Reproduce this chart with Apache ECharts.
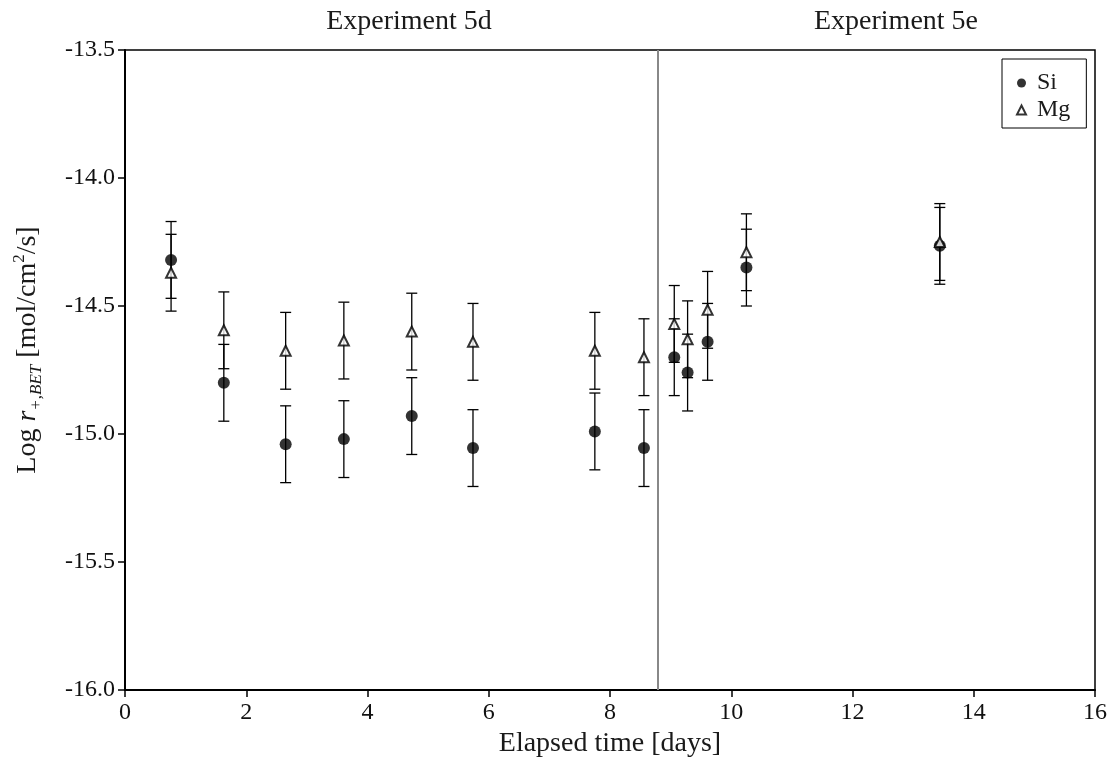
<!DOCTYPE html>
<html>
<head>
<meta charset="utf-8">
<script src="https://cdn.jsdelivr.net/npm/echarts@6/dist/echarts.min.js"></script>
<style>
html,body{margin:0;padding:0;background:#fff;}
#chart{width:1117px;height:763px;}
</style>
</head>
<body>
<div id="chart"></div>
<script>
// ---- data ----
const days   = [0.76, 1.63, 2.65, 3.61, 4.73, 5.74, 7.75, 8.56, 9.06, 9.28, 9.61, 10.25, 13.44];
const siVals = [-14.32, -14.80, -15.04, -15.02, -14.93, -15.055, -14.99, -15.055, -14.70, -14.76, -14.64, -14.35, -14.265];
const mgVals = [-14.37, -14.595, -14.675, -14.635, -14.60, -14.64, -14.675, -14.70, -14.57, -14.63, -14.515, -14.29, -14.25];
const siErr  = [0.15, 0.15, 0.15, 0.15, 0.15, 0.15, 0.15, 0.15, 0.15, 0.15, 0.15, 0.15, 0.15];
const mgErr  = [0.15, 0.15, 0.15, 0.15, 0.15, 0.15, 0.15, 0.15, 0.15, 0.15, 0.15, 0.15, 0.15];
const experimentBoundary = 8.79;
const experimentLabels = ['Experiment 5d', 'Experiment 5e'];
const seriesNames = ['Si', 'Mg'];

const FONT = 'Liberation Serif';

function pts(vals){ return days.map((d,i)=>[d, vals[i]]); }
function errs(vals, e){ return days.map((d,i)=>[d, vals[i]-e[i], vals[i]+e[i]]); }

function renderErr(params, api){
  const x = api.value(0), lo = api.value(1), hi = api.value(2);
  const p1 = api.coord([x, hi]), p2 = api.coord([x, lo]);
  const w = 5.5;
  const style = {stroke:'#000', lineWidth:1.3, fill:null};
  return {type:'group', children:[
    {type:'line', shape:{x1:p1[0],y1:p1[1],x2:p2[0],y2:p2[1]}, style:style},
    {type:'line', shape:{x1:p1[0]-w,y1:p1[1],x2:p1[0]+w,y2:p1[1]}, style:style},
    {type:'line', shape:{x1:p2[0]-w,y1:p2[1],x2:p2[0]+w,y2:p2[1]}, style:style}
  ]};
}

const chart = echarts.init(document.getElementById('chart'), null, {renderer:'canvas'});
chart.setOption({
  animation:false,
  backgroundColor:'#fff',
  textStyle:{fontFamily:FONT},
  grid:{left:125, right:22, top:50, bottom:73, show:true, borderColor:'#000', borderWidth:1.5, backgroundColor:'transparent'},
  graphic:[
    {type:'text', x:409, y:22, style:{text:experimentLabels[0], font:'28px "Liberation Serif"', fill:'#1a1a1a', textAlign:'center', textVerticalAlign:'middle'}},
    {type:'text', x:896, y:22, style:{text:experimentLabels[1], font:'28px "Liberation Serif"', fill:'#1a1a1a', textAlign:'center', textVerticalAlign:'middle'}}
  ],
  legend:{
    orient:'vertical', left:1002, top:59,
    data:[{name:seriesNames[0], icon:'circle'},{name:seriesNames[1], icon:'triangle'}],
    itemWidth:9, itemHeight:9, itemGap:3,
    padding:[12,16,6,14],
    borderColor:'#000', borderWidth:1, backgroundColor:'#fff',
    textStyle:{fontFamily:FONT, fontSize:24, color:'#1a1a1a', padding:[0,0,0,6]}
  },
  xAxis:{
    type:'value', min:0, max:16, interval:2,
    name:'Elapsed time [days]', nameLocation:'middle', nameGap:38,
    nameTextStyle:{fontFamily:FONT, fontSize:28, color:'#1a1a1a'},
    axisLine:{show:true, onZero:false, lineStyle:{color:'#000', width:2}},
    axisTick:{show:true, inside:false, length:7, lineStyle:{color:'#000', width:1.5}},
    axisLabel:{fontFamily:FONT, fontSize:24, color:'#111', margin:11},
    splitLine:{show:false}
  },
  yAxis:{
    type:'value', min:-16, max:-13.5, interval:0.5,
    name:'{n|Log }{i|r}{s|+,BET}{n| [mol/cm}{sup|2}{n|/s]}',
    nameLocation:'middle', nameGap:80, nameRotate:90,
    nameTextStyle:{fontFamily:FONT, fontSize:28, color:'#1a1a1a', padding:[0,0,0,40],
      rich:{
        n:{fontFamily:FONT, fontSize:28, color:'#1a1a1a', lineHeight:34},
        i:{fontFamily:FONT, fontSize:28, fontStyle:'italic', color:'#1a1a1a', lineHeight:34},
        s:{fontFamily:FONT, fontSize:17, fontStyle:'italic', color:'#1a1a1a', verticalAlign:'bottom', lineHeight:34, padding:[12,0,0,0]},
        sup:{fontFamily:FONT, fontSize:17, color:'#1a1a1a', verticalAlign:'top', lineHeight:34, padding:[0,0,12,0]}
      }},
    axisLine:{show:true, onZero:false, lineStyle:{color:'#000', width:2}},
    axisTick:{show:true, inside:false, length:7, lineStyle:{color:'#000', width:1.5}},
    axisLabel:{fontFamily:FONT, fontSize:24, color:'#111', margin:10, formatter:v=>v.toFixed(1)},
    splitLine:{show:false}
  },
  series:[
    {type:'custom', name:'SiErr', renderItem:renderErr, data:errs(siVals, siErr), encode:{x:0, y:[1,2]}, z:2, silent:true,
     markLine:{silent:true, symbol:'none', label:{show:false}, lineStyle:{color:'#888', width:2, type:'solid'}, data:[{xAxis:experimentBoundary}]}},
    {type:'custom', name:'MgErr', renderItem:renderErr, data:errs(mgVals, mgErr), encode:{x:0, y:[1,2]}, z:2, silent:true},
    {type:'scatter', name:seriesNames[0], data:pts(siVals), symbol:'circle', symbolSize:12,
     itemStyle:{color:'#000'}, z:3},
    {type:'scatter', name:seriesNames[1], data:pts(mgVals), symbol:'triangle', symbolSize:10,
     itemStyle:{color:'#fff', borderColor:'#000', borderWidth:2}, z:4}
  ]
});
</script>
</body>
</html>
